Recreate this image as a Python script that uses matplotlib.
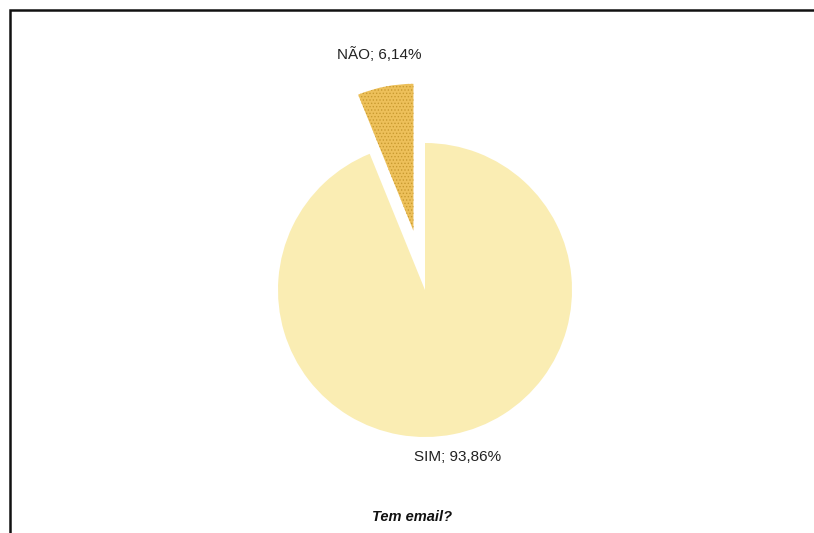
import numpy as np
import matplotlib.pyplot as plt
from matplotlib.patches import Rectangle

plt.rcParams['font.family'] = ['Liberation Sans', 'DejaVu Sans']
plt.rcParams['hatch.linewidth'] = 0.6

labels = ['NÃO', 'SIM']
values = [6.14, 93.86]
colors = ['#EDC05A', '#FAEDB3']

RADIUS = 147
explode = [0.41 * RADIUS, 0.0]
label_dist = [1.22, 1.16]

fig = plt.figure(figsize=(8.14, 5.33), dpi=100)
ax = fig.add_axes([0, 0, 1, 1])

# outer chart frame (runs off right and bottom edges)
ax.add_patch(Rectangle((10, -20), 830, 543, fill=False, lw=1.8, ec='#111111'))

wedges, texts = ax.pie(values, colors=colors, explode=explode, startangle=90,
                       counterclock=True, radius=RADIUS, center=(425, 243),
                       labels=[f'{l}; {v:.2f}%'.replace('.', ',') for l, v in zip(labels, values)],
                       wedgeprops=dict(linewidth=0), frame=True,
                       textprops=dict(fontsize=11, color='#222222'))
ax.set_xlim(0, 814)
ax.set_ylim(0, 533)
ax.set_aspect('equal')
ax.axis('off')

# dotted fill on the small slice
wedges[0].set_hatch('.....')
wedges[0].set_edgecolor('#C99A30')
wedges[0].set_linewidth(0)

for w, t, d in zip(wedges, texts, label_dist):
    mid = np.deg2rad((w.theta1 + w.theta2) / 2)
    cx, cy = w.center
    t.set_position((cx + d * w.r * np.cos(mid), cy + d * w.r * np.sin(mid)))
    t.set_ha('center')
    t.set_va('center')

ax.text(412, 16, 'Tem email?', ha='center', va='center', fontsize=10.5,
        fontweight='bold', fontstyle='italic', color='#111111')

fig.savefig('out.png', dpi=100)
